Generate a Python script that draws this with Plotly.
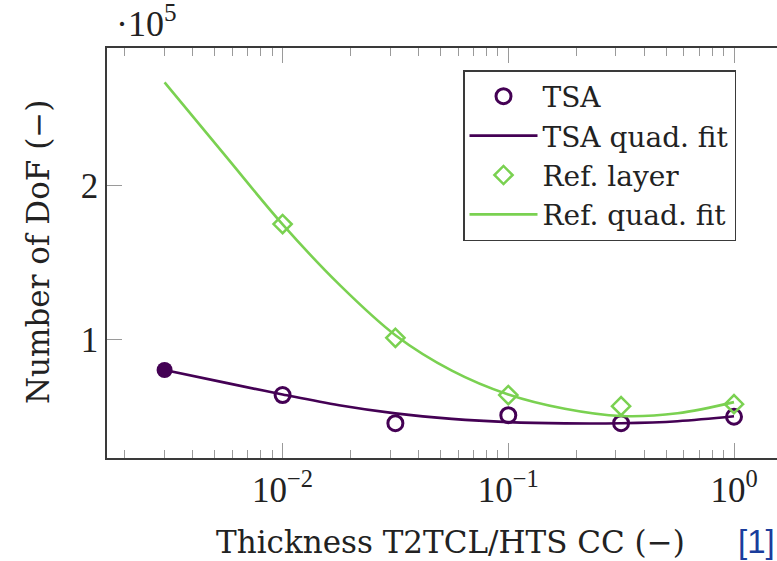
import plotly.graph_objects as go

# ---- data ----
tsa_x = [0.003, 0.01, 0.0316, 0.1, 0.316, 1.0]
tsa_y = [0.804e5, 0.641e5, 0.458e5, 0.51e5, 0.458e5, 0.50e5]

ref_x = [0.01, 0.0316, 0.1, 0.316, 1.0]
ref_y = [1.752e5, 1.013e5, 0.641e5, 0.569e5, 0.582e5]

fit_x = [0.003, 0.00562, 0.01, 0.0178, 0.0316, 0.0562, 0.1, 0.178, 0.316, 0.562, 1.0]
tsa_fit_y = [0.804e5, 0.72e5, 0.645e5, 0.575e5, 0.522e5, 0.486e5, 0.465e5, 0.457e5,
             0.458e5, 0.471e5, 0.503e5]
ref_fit_y = [2.673e5, 2.19e5, 1.75e5, 1.36e5, 1.03e5, 0.80e5, 0.645e5, 0.552e5,
             0.505e5, 0.523e5, 0.595e5]

x_tickvals = [0.01, 0.1, 1.0]
x_ticktext = ["10<sup>−2</sup>", "10<sup>−1</sup>", "10<sup>0</sup>"]
y_tickvals = [1e5, 2e5]
y_ticktext = ["1", "2"]

PURPLE = "#440154"
GREEN = "#7AD151"
FONT = "DejaVu Serif"
NUMFONT = "Liberation Serif"
W, H = 777, 561
L, R, T, B = 107, 0, 48, 103

fig = go.Figure()
fig.add_trace(go.Scatter(
    x=tsa_x[1:], y=tsa_y[1:], mode="markers", name="TSA",
    marker=dict(symbol="circle-open", size=15, color=PURPLE, line=dict(width=3, color=PURPLE)),
))
fig.add_trace(go.Scatter(
    x=fit_x, y=tsa_fit_y, mode="lines", name="TSA quad. fit",
    line=dict(color=PURPLE, width=2.6, shape="spline"),
))
fig.add_trace(go.Scatter(
    x=ref_x, y=ref_y, mode="markers", name="Ref. layer",
    marker=dict(symbol="diamond-open", size=14, color=GREEN, line=dict(width=2.5, color=GREEN)),
))
fig.add_trace(go.Scatter(
    x=fit_x, y=ref_fit_y, mode="lines", name="Ref. quad. fit",
    line=dict(color=GREEN, width=2.6, shape="spline"),
))
fig.add_trace(go.Scatter(
    x=tsa_x[:1], y=tsa_y[:1], mode="markers", showlegend=False,
    marker=dict(symbol="circle", size=16, color=PURPLE),
))

pw = W - L - R
ph = H - T - B

fig.update_layout(
    width=W, height=H,
    margin=dict(l=L, r=R, t=T, b=B, pad=0),
    paper_bgcolor="white", plot_bgcolor="white",
    font=dict(family=FONT, size=27, color="#222"),
    showlegend=True,
    legend=dict(
        x=(463 - L) / pw, y=(H - B - 70) / ph, xanchor="left", yanchor="top",
        bordercolor="#3a3a3a", borderwidth=1.5, bgcolor="white",
        font=dict(family=FONT, size=28, color="#222"),
        itemwidth=68, tracegroupgap=0,
    ),
    xaxis=dict(
        type="log", range=[-2.778, 0.1905],
        tickvals=x_tickvals, ticktext=x_ticktext,
        ticks="inside", ticklen=15, tickwidth=1, tickcolor="#9a9a9a",
        showline=True, linecolor="#3a3a3a", linewidth=1.5, mirror="ticks",
        showgrid=False, zeroline=False,
        tickfont=dict(family=NUMFONT, size=35, color="#222"),
        minor=dict(ticks="inside", ticklen=8, tickwidth=1, tickcolor="#9a9a9a",
                   dtick="D1", showgrid=False),
    ),
    yaxis=dict(
        range=[0.232e5, 2.896e5],
        tickvals=y_tickvals, ticktext=y_ticktext,
        ticks="inside", ticklen=15, tickwidth=1, tickcolor="#9a9a9a",
        showline=True, linecolor="#3a3a3a", linewidth=1.5, mirror=False,
        showgrid=False, zeroline=False,
        tickfont=dict(family=NUMFONT, size=35, color="#222"),
    ),
    annotations=[
        dict(text="Thickness T2TCL/HTS CC (−)", xref="paper", yref="paper",
             x=(450 - L) / pw, y=(H - B - 542) / ph, xanchor="center", yanchor="middle",
             showarrow=False, font=dict(family=FONT, size=31, color="#222")),
        dict(text="Number of DoF (−)", xref="paper", yref="paper",
             x=(38 - L) / pw, y=(H - B - 252) / ph, xanchor="center", yanchor="middle", textangle=-90,
             showarrow=False, font=dict(family=FONT, size=31, color="#222")),
        dict(text="·10<sup>5</sup>", xref="paper", yref="paper",
             x=(114 - L) / pw, y=(H - B - 22) / ph, xanchor="left", yanchor="middle",
             showarrow=False, font=dict(family=NUMFONT, size=36, color="#222")),
        dict(text="[1]", xref="paper", yref="paper",
             x=(777 - L) / pw, y=(H - B - 541) / ph, xanchor="right", yanchor="middle",
             showarrow=False, font=dict(family="Liberation Sans", size=33, color="#1a3d9c")),
    ],
)

fig.write_html("out.html")
